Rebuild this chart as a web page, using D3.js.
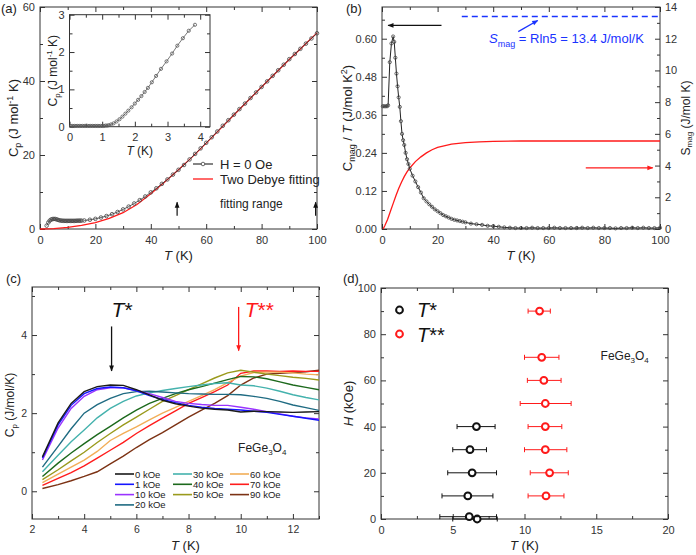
<!DOCTYPE html>
<html>
<head>
<meta charset="utf-8">
<script src="https://cdn.jsdelivr.net/npm/d3@7"></script>
<style>
  body { margin: 0; background: #fff; }
  svg text { font-family: "Liberation Sans", Arial, sans-serif; }
</style>
</head>
<body>
<div id="fig"></div>
<script>
// ---------- panel (a): Cp vs T, zero field ----------
var lowT = [2.4, 3, 3.5, 4, 4.5, 5, 5.5, 6, 6.5, 7, 7.5, 8, 8.5, 9, 9.5, 10, 10.5, 11, 11.5, 12, 12.5, 13, 13.5, 14, 14.5, 15];
var lowCp = [0.9, 1.75, 2.25, 2.55, 2.68, 2.72, 2.71, 2.6, 2.47, 2.35, 2.28, 2.24, 2.22, 2.2, 2.2, 2.2, 2.2, 2.2, 2.2, 2.2, 2.2, 2.22, 2.24, 2.25, 2.25, 2.26];
var highT = [16, 18, 20, 22, 24, 26, 28, 30, 32, 34, 36, 38, 40, 42, 44, 46, 48, 50, 52, 54, 56, 58, 60, 62, 64, 66, 68, 70, 72, 74, 76, 78, 80, 82, 84, 86, 88, 90, 92, 94, 96, 98, 100];
var highCp = [2.3, 2.5, 2.75, 3.1, 3.5, 4.0, 4.6, 5.3, 6.05, 6.9, 7.8, 8.8, 9.9, 11.0, 12.2, 13.4, 14.7, 16.0, 17.3, 18.8, 20.3, 21.8, 23.3, 24.8, 26.35, 27.9, 29.4, 30.9, 32.4, 33.9, 35.4, 36.9, 38.4, 39.9, 41.4, 42.9, 44.4, 45.9, 47.3, 48.7, 50.1, 51.5, 52.9];
var fitT = [0, 5, 10, 15, 20, 25, 30, 35, 40, 45, 50, 55, 60, 65, 70, 75, 80, 85, 90, 95, 100];
var fitCp = [0, 0.1, 0.45, 1.0, 1.75, 2.85, 4.4, 6.6, 9.5, 12.7, 16.0, 19.5, 23.2, 27.0, 30.8, 34.6, 38.4, 42.1, 45.8, 49.4, 53.0];
var fitRange = [49.5, 99.5];

// inset of (a)
var insetT = [0.05, 0.1, 0.15, 0.2, 0.25, 0.3, 0.35, 0.4, 0.45, 0.5, 0.55, 0.6, 0.65, 0.7, 0.75, 0.8, 0.85, 0.9, 0.95, 1.0, 1.05, 1.1, 1.15, 1.2,
    1.27, 1.35, 1.44, 1.53, 1.62, 1.71, 1.8, 1.9, 2.0, 2.1, 2.2, 2.3, 2.4, 2.52, 2.65, 2.8, 2.97, 3.14, 3.3, 3.47, 3.65, 3.84];
var insetCp = [0.02, 0.02, 0.02, 0.02, 0.02, 0.02, 0.02, 0.02, 0.02, 0.02, 0.02, 0.02, 0.02, 0.02, 0.02, 0.02, 0.02, 0.02, 0.02, 0.02, 0.02, 0.03, 0.03, 0.04,
    0.06, 0.09, 0.14, 0.2, 0.27, 0.35, 0.43, 0.52, 0.62, 0.72, 0.82, 0.93, 1.04, 1.19, 1.36, 1.55, 1.75, 1.96, 2.17, 2.37, 2.57, 2.73];

// ---------- panel (b): magnetic part ----------
var magT = [0.3, 0.8, 1.3, 1.8, 2.2, 2.8, 3.4, 4, 4.4, 4.8, 5.2, 5.6, 6, 6.4, 6.8, 7.2, 7.6, 8, 8.5, 9, 9.5, 10, 11, 12, 13, 14, 15, 16, 17, 18, 19, 20,
    21, 22, 23, 24, 25, 26, 27, 28, 29, 30, 32, 34, 36, 38, 40, 42, 44, 46, 48, 50, 52, 54, 56, 58, 60, 62, 64, 66, 68, 70, 72, 74, 76, 78, 80, 82, 84, 86, 88, 90, 92, 94, 96, 98, 100];
var magCT = [0.387, 0.387, 0.387, 0.387, 0.39, 0.526, 0.585, 0.607, 0.59, 0.54, 0.49, 0.45, 0.415, 0.385, 0.34, 0.3, 0.28, 0.265, 0.24, 0.22, 0.205, 0.19, 0.168, 0.15, 0.132, 0.115, 0.097, 0.087, 0.078, 0.07, 0.062, 0.056,
    0.05, 0.044, 0.04, 0.036, 0.032, 0.029, 0.027, 0.025, 0.023, 0.021, 0.017, 0.015, 0.013, 0.01, 0.009, 0.007, 0.005, 0.004, 0.003, 0.003, 0.003, 0.004, 0.003, 0.003, 0.003, 0.004, 0.003, 0.003, 0.003, 0.003, 0.004, 0.003, 0.004, 0.003, 0.003, 0.003, 0.002, 0.003, 0.003, 0.004, 0.003, 0.004, 0.003, 0.003, 0.004];
var entT = [0.4, 1, 2, 3, 4, 5, 6, 7, 8, 9, 10, 12, 14, 16, 18, 20, 25, 30, 35, 40, 50, 60, 80, 100];
var entS = [0, 0.2, 0.6, 1.1, 1.6, 2.1, 2.55, 2.95, 3.3, 3.6, 3.85, 4.25, 4.55, 4.8, 5.0, 5.15, 5.35, 5.45, 5.5, 5.53, 5.55, 5.55, 5.55, 5.55];
var sRln5 = 13.4;

// ---------- panel (c): Cp in field ----------
var fieldT = [2.4, 3, 3.5, 4, 4.5, 5, 5.5, 6, 6.5, 7, 7.5, 8, 8.5, 9, 9.5, 10, 10.5, 11, 11.5, 12, 12.5, 13];
var fieldNames = ["0 kOe", "1 kOe", "10 kOe", "20 kOe", "30 kOe", "40 kOe", "50 kOe", "60 kOe", "70 kOe", "90 kOe"];
var fieldColors = ["#1a1a1a", "#1515ff", "#9a33ff", "#1f6b82", "#44b2ad", "#1c691c", "#9a9a1c", "#f2ae58", "#ff1c1c", "#7c3214"];
var cp0 = [0.88, 1.75, 2.25, 2.55, 2.68, 2.72, 2.71, 2.6, 2.47, 2.33, 2.24, 2.18, 2.13, 2.1, 2.08, 2.03, 2.05, 2.04, 2.03, 2.02, 2.03, 2.04];
var cp1 = [0.85, 1.7, 2.2, 2.5, 2.63, 2.67, 2.65, 2.57, 2.45, 2.35, 2.27, 2.2, 2.15, 2.12, 2.1, 2.08, 2.05, 2.02, 1.97, 1.92, 1.87, 1.82];
var cp10 = [0.8, 1.62, 2.12, 2.43, 2.6, 2.65, 2.65, 2.58, 2.5, 2.4, 2.3, 2.25, 2.22, 2.2, 2.2, 2.15, 2.1, 2.04, 1.98, 1.92, 1.88, 1.85];
var cp20 = [0.62, 1.15, 1.6, 2.0, 2.22, 2.38, 2.5, 2.55, 2.56, 2.54, 2.52, 2.5, 2.49, 2.48, 2.48, 2.47, 2.43, 2.38, 2.3, 2.21, 2.14, 2.07];
var cp30 = [0.5, 0.92, 1.27, 1.57, 1.88, 2.12, 2.3, 2.44, 2.52, 2.58, 2.63, 2.68, 2.72, 2.76, 2.78, 2.72, 2.7, 2.64, 2.56, 2.47, 2.4, 2.34];
var cp40 = [0.38, 0.72, 0.98, 1.22, 1.45, 1.66, 1.88, 2.08, 2.25, 2.38, 2.5, 2.6, 2.68, 2.77, 2.86, 2.94, 2.93, 2.88, 2.8, 2.72, 2.66, 2.6];
var cp50 = [0.3, 0.55, 0.78, 1.0, 1.25, 1.48, 1.7, 1.9, 2.1, 2.3, 2.45, 2.6, 2.75, 2.9, 3.03, 3.1, 3.05, 3.0, 2.96, 2.92, 2.89, 2.85];
var cp60 = [0.22, 0.44, 0.62, 0.8, 1.02, 1.3, 1.48, 1.65, 1.83, 2.0, 2.15, 2.3, 2.45, 2.6, 2.78, 2.95, 3.04, 3.05, 3.05, 3.03, 3.0, 2.98];
var cp70 = [0.15, 0.33, 0.48, 0.65, 0.85, 1.05, 1.25, 1.48, 1.68, 1.87, 2.06, 2.25, 2.4, 2.55, 2.72, 3.02, 3.08, 3.08, 3.07, 3.08, 3.07, 3.07];
var cp90 = [0.07, 0.17, 0.27, 0.38, 0.5, 0.7, 0.9, 1.12, 1.32, 1.5, 1.7, 1.9, 2.08, 2.25, 2.45, 2.72, 2.9, 3.0, 3.02, 3.04, 3.06, 3.1];
var fieldCp = [cp0, cp1, cp10, cp20, cp30, cp40, cp50, cp60, cp70, cp90];
var tStarMark = 5.05, tStar2Mark = 9.92;

// ---------- panel (d): phase diagram ----------
var starH = [0, 1, 10, 20, 30, 40];
var starT = [6.7, 6.15, 6.05, 6.35, 6.2, 6.65];
var starLo = [5.0, 4.1, 4.25, 4.65, 5.0, 5.3];
var starHi = [8.1, 8.05, 7.8, 8.05, 7.35, 7.95];
var star2H = [10, 20, 30, 40, 50, 60, 70, 90];
var star2T = [11.5, 11.75, 11.45, 11.45, 11.45, 11.35, 11.2, 11.05];
var star2Lo = [10.25, 10.4, 10.0, 10.25, 9.7, 10.2, 10.0, 10.25];
var star2Hi = [12.75, 13.05, 12.95, 12.6, 13.25, 12.55, 12.4, 11.8];

var svg = d3.select("#fig").append("svg").attr("width", 696).attr("height", 555);

var defs = svg.append("defs");
[["k", "#111"], ["r", "#ff1a1a"], ["b", "#1a33ff"]].forEach(function (m) {
    defs.append("marker")
        .attr("id", "arr-" + m[0])
        .attr("viewBox", "0 0 10 10")
        .attr("refX", 9).attr("refY", 5)
        .attr("markerWidth", 7).attr("markerHeight", 6)
        .attr("markerUnits", "userSpaceOnUse")
        .attr("orient", "auto")
        .append("path").attr("d", "M0,1 L10,5 L0,9 z").attr("fill", m[1]);
});

// axes with inward ticks on all four sides
function axes(g, x, y, c) {
    var w = x.range()[1], h = y.range()[0];
    var bot = g.append("g").attr("transform", "translate(0," + h + ")");
    bot.call(d3.axisBottom(x).tickValues(c.xt).tickSize(-5).tickSizeOuter(0).tickPadding(7).tickFormat(c.xf || d3.format("d")));
    bot.append("g").call(d3.axisBottom(x).tickValues(c.xm).tickSize(-3).tickSizeOuter(0).tickFormat(""));
    var top = g.append("g");
    top.call(d3.axisTop(x).tickValues(c.xt).tickSize(-5).tickSizeOuter(0).tickFormat(""));
    top.append("g").call(d3.axisTop(x).tickValues(c.xm).tickSize(-3).tickSizeOuter(0).tickFormat(""));
    var left = g.append("g");
    left.call(d3.axisLeft(y).tickValues(c.yt).tickSize(-5).tickSizeOuter(0).tickPadding(5).tickFormat(c.yf || d3.format("d")));
    left.append("g").call(d3.axisLeft(y).tickValues(c.ym).tickSize(-3).tickSizeOuter(0).tickFormat(""));
    if (!c.noRight) {
        var right = g.append("g").attr("transform", "translate(" + w + ",0)");
        right.call(d3.axisRight(y).tickValues(c.yt).tickSize(-5).tickSizeOuter(0).tickFormat(""));
        right.append("g").call(d3.axisRight(y).tickValues(c.ym).tickSize(-3).tickSizeOuter(0).tickFormat(""));
    }
    g.append("rect").attr("width", w).attr("height", h)
        .attr("fill", "none").attr("stroke", "#333").attr("stroke-width", 1);
    g.selectAll(".domain").remove();
    g.selectAll(".tick line").attr("stroke", "#333");
    g.selectAll(".tick text").attr("fill", "#333").style("font-size", (c.fs || 11) + "px");
}

function circles(g, xs, ys, x, y, r, col) {
    g.append("g").selectAll("circle")
        .data(xs)
        .enter()
        .append("circle")
        .attr("cx", (d) => x(d))
        .attr("cy", (d, i) => y(ys[i]))
        .attr("r", r)
        .attr("fill", "none")
        .attr("stroke", col)
        .attr("stroke-width", 0.8);
}

function pathOf(xs, ys, x, y) {
    return d3.line().x((d) => x(d)).y((d, i) => y(ys[i]))(xs);
}

function label(x, y, t) {
    svg.append("text").attr("x", x).attr("y", y).style("font-size", "13px").attr("fill", "#222").text(t);
}

// ================= (a) =================
(function () {
    var W = 277, H = 222;
    var g = svg.append("g").attr("transform", "translate(40,7)");
    var x = d3.scaleLinear().domain([0, 100]).range([0, W]);
    var y = d3.scaleLinear().domain([0, 60]).range([H, 0]);
    axes(g, x, y, { xt: d3.range(0, 101, 20), xm: d3.range(10, 100, 20), yt: [0, 20, 40, 60], ym: [10, 30, 50] });

    g.append("path").attr("d", pathOf(fitT, fitCp, x, y)).attr("fill", "none").attr("stroke", "#ff1a1a").attr("stroke-width", 1.3);
    g.append("path").attr("d", pathOf(highT, highCp, x, y)).attr("fill", "none").attr("stroke", "#333").attr("stroke-width", 0.8);
    circles(g, highT, highCp, x, y, 1.8, "#444");
    g.append("path").attr("d", pathOf(lowT, lowCp, x, y)).attr("fill", "none").attr("stroke", "#333").attr("stroke-width", 0.8);
    circles(g, lowT, lowCp, x, y, 1.8, "#444");

    // fitting range arrows
    fitRange.forEach(function (t) {
        g.append("line").attr("x1", x(t)).attr("x2", x(t)).attr("y1", y(3.6)).attr("y2", y(7.2))
            .attr("stroke", "#111").attr("stroke-width", 1.2).attr("marker-end", "url(#arr-k)");
    });
    g.append("text").attr("x", x(65)).attr("y", y(5.6)).style("font-size", "12px").attr("fill", "#222").text("fitting range");

    // legend
    var lg = g.append("g");
    lg.append("line").attr("x1", 153).attr("x2", 173).attr("y1", 157).attr("y2", 157).attr("stroke", "#333").attr("stroke-width", 1.2);
    lg.append("circle").attr("cx", 163).attr("cy", 157).attr("r", 1.8).attr("fill", "#fff").attr("stroke", "#444").attr("stroke-width", 0.8);
    lg.append("text").attr("x", 180).attr("y", 161.5).style("font-size", "13px").attr("fill", "#222").text("H = 0 Oe");
    lg.append("line").attr("x1", 153).attr("x2", 173).attr("y1", 172).attr("y2", 172).attr("stroke", "#ff1a1a").attr("stroke-width", 1.3);
    lg.append("text").attr("x", 180).attr("y", 176.5).style("font-size", "13px").attr("fill", "#222").text("Two Debye fitting");

    g.append("text").attr("transform", "translate(-22," + H / 2 + ") rotate(-90)").attr("text-anchor", "middle")
        .style("font-size", "13px").attr("fill", "#222")
        .html('C<tspan dy="3" font-size="9">p</tspan><tspan dy="-3"> (J mol</tspan><tspan dy="-5" font-size="9">-1</tspan><tspan dy="5"> K)</tspan>');
    g.append("text").attr("x", W / 2).attr("y", H + 31).attr("text-anchor", "middle").style("font-size", "13px").attr("fill", "#222")
        .html('<tspan font-style="italic">T</tspan> (K)');

    // inset
    var iw = 140.5, ih = 112;
    var ig = svg.append("g").attr("transform", "translate(69.5,14.7)");
    ig.append("rect").attr("width", iw).attr("height", ih).attr("fill", "#fff");
    var ix = d3.scaleLinear().domain([0, 4.3]).range([0, iw]);
    var iy = d3.scaleLinear().domain([0, 3]).range([ih, 0]);
    axes(ig, ix, iy, { xt: [0, 1, 2, 3, 4], xm: [0.5, 1.5, 2.5, 3.5], yt: [0, 1, 2, 3], ym: [0.5, 1.5, 2.5], fs: 11 });
    ig.append("path").attr("d", pathOf(insetT, insetCp, ix, iy)).attr("fill", "none").attr("stroke", "#555").attr("stroke-width", 0.8);
    circles(ig, insetT, insetCp, ix, iy, 1.6, "#555");
    ig.append("text").attr("transform", "translate(-13," + ih / 2 + ") rotate(-90)").attr("text-anchor", "middle")
        .style("font-size", "12px").attr("fill", "#222")
        .html('C<tspan dy="3" font-size="8">p</tspan><tspan dy="-3"> (J mol</tspan><tspan dy="-5" font-size="8">-1</tspan><tspan dy="5"> K)</tspan>');
    ig.append("text").attr("x", iw / 2).attr("y", ih + 28).attr("text-anchor", "middle").style("font-size", "12px").attr("fill", "#222")
        .html('<tspan font-style="italic">T</tspan> (K)');
    label(1, 13, "(a)");
})();

// ================= (b) =================
(function () {
    var W = 278, H = 222;
    var g = svg.append("g").attr("transform", "translate(382,7)");
    var x = d3.scaleLinear().domain([0, 100]).range([0, W]);
    var y = d3.scaleLinear().domain([0, 0.7]).range([H, 0]);
    var yr = d3.scaleLinear().domain([0, 14]).range([H, 0]);
    axes(g, x, y, { xt: d3.range(0, 101, 20), xm: d3.range(10, 100, 20), yt: [0, 0.12, 0.24, 0.36, 0.48, 0.6], ym: [0.06, 0.18, 0.3, 0.42, 0.54, 0.66], yf: d3.format(".2f"), noRight: true });
    var right = g.append("g").attr("transform", "translate(" + W + ",0)");
    right.call(d3.axisRight(yr).tickValues(d3.range(0, 15, 2)).tickSize(-5).tickSizeOuter(0).tickPadding(5));
    right.append("g").call(d3.axisRight(yr).tickValues(d3.range(1, 14, 2)).tickSize(-3).tickSizeOuter(0).tickFormat(""));
    right.selectAll(".domain").remove();
    right.selectAll(".tick line").attr("stroke", "#333");
    right.selectAll(".tick text").attr("fill", "#333").style("font-size", "11px");

    g.append("path").attr("d", pathOf(entT, entS, x, yr)).attr("fill", "none").attr("stroke", "#ff1a1a").attr("stroke-width", 1.3);
    g.append("path").attr("d", pathOf(magT, magCT, x, y)).attr("fill", "none").attr("stroke", "#222").attr("stroke-width", 1);
    circles(g, magT, magCT, x, y, 1.6, "#444");

    // R ln5 line
    g.append("line").attr("x1", x(28.7)).attr("x2", x(100)).attr("y1", yr(sRln5)).attr("y2", yr(sRln5))
        .attr("stroke", "#1a33ff").attr("stroke-width", 1.3).attr("stroke-dasharray", "6,4");
    g.append("line").attr("x1", x(49)).attr("y1", yr(12.45)).attr("x2", x(56)).attr("y2", yr(13.15))
        .attr("stroke", "#1a33ff").attr("stroke-width", 1.3).attr("marker-end", "url(#arr-b)");
    g.append("text").attr("x", x(38.5)).attr("y", yr(11.7)).style("font-size", "13px").attr("fill", "#1a33ff")
        .html('<tspan font-style="italic">S</tspan><tspan dy="4" font-size="9">mag</tspan><tspan dy="-4"> = Rln5 = 13.4 J/mol/K</tspan>');

    // axis arrows
    g.append("line").attr("x1", x(21.4)).attr("x2", x(2.2)).attr("y1", y(0.642)).attr("y2", y(0.642))
        .attr("stroke", "#111").attr("stroke-width", 1.2).attr("marker-end", "url(#arr-k)");
    g.append("line").attr("x1", x(73.3)).attr("x2", x(97.4)).attr("y1", yr(3.86)).attr("y2", yr(3.86))
        .attr("stroke", "#ff1a1a").attr("stroke-width", 1.2).attr("marker-end", "url(#arr-r)");

    g.append("text").attr("transform", "translate(-30," + H / 2 + ") rotate(-90)").attr("text-anchor", "middle")
        .style("font-size", "13px").attr("fill", "#222")
        .html('C<tspan dy="3" font-size="9">mag</tspan><tspan dy="-3"> / </tspan><tspan font-style="italic">T</tspan> (J/mol K<tspan dy="-5" font-size="9">2</tspan><tspan dy="5">)</tspan>');
    g.append("text").attr("transform", "translate(" + (W + 30) + "," + H / 2 + ") rotate(-90)").attr("text-anchor", "middle")
        .style("font-size", "12px").attr("fill", "#222")
        .html('S<tspan dy="2" font-size="8">mag</tspan><tspan dy="-2"> (J/mol K)</tspan>');
    g.append("text").attr("x", W / 2).attr("y", H + 31).attr("text-anchor", "middle").style("font-size", "13px").attr("fill", "#222")
        .html('<tspan font-style="italic">T</tspan> (K)');
    label(346, 13, "(b)");
})();

// ================= (c) =================
(function () {
    var W = 287, H = 232;
    var g = svg.append("g").attr("transform", "translate(32,287)");
    var x = d3.scaleLinear().domain([2, 13]).range([0, W]);
    var y = d3.scaleLinear().domain([-0.71, 5.23]).range([H, 0]);
    axes(g, x, y, { xt: [2, 4, 6, 8, 10, 12], xm: [3, 5, 7, 9, 11, 13], yt: [0, 2, 4], ym: [1, 3, 5], fs: 10.5 });

    g.append("clipPath").attr("id", "clip-c").append("rect").attr("width", W).attr("height", H);
    var lines = g.append("g").attr("clip-path", "url(#clip-c)");
    fieldCp.slice().reverse().forEach(function (vals, k) {
        var i = fieldCp.length - 1 - k;
        lines.append("path").attr("d", pathOf(fieldT, vals, x, y)).attr("fill", "none")
            .attr("stroke", fieldColors[i]).attr("stroke-width", 1.4);
    });

    // T* and T** markers
    g.append("line").attr("x1", x(tStarMark)).attr("x2", x(tStarMark)).attr("y1", y(4.22)).attr("y2", y(3.08))
        .attr("stroke", "#111").attr("stroke-width", 1.3).attr("marker-end", "url(#arr-k)");
    g.append("line").attr("x1", x(tStar2Mark)).attr("x2", x(tStar2Mark)).attr("y1", y(4.72)).attr("y2", y(3.6))
        .attr("stroke", "#ff1a1a").attr("stroke-width", 1.3).attr("marker-end", "url(#arr-r)");
    g.append("text").attr("x", x(5.05)).attr("y", y(4.45)).style("font-size", "21px").attr("fill", "#111")
        .html('<tspan font-style="italic">T</tspan>*');
    g.append("text").attr("x", x(10.15)).attr("y", y(4.45)).style("font-size", "21px").attr("fill", "#ff1a1a")
        .html('<tspan font-style="italic">T</tspan>**');
    g.append("text").attr("x", x(9.9)).attr("y", y(1.0)).style("font-size", "12px").attr("fill", "#222")
        .html('FeGe<tspan dy="3" font-size="8">3</tspan><tspan dy="-3">O</tspan><tspan dy="3" font-size="8">4</tspan>');

    // legend in three columns
    var colX = [83, 141, 198], rowY = [187, 197.3, 207.6, 217.9];
    var slot = [[0, 0], [0, 1], [0, 2], [0, 3], [1, 0], [1, 1], [1, 2], [2, 0], [2, 1], [2, 2]];
    fieldNames.forEach(function (n, i) {
        var cx = colX[slot[i][0]], cy = rowY[slot[i][1]];
        g.append("line").attr("x1", cx).attr("x2", cx + 19).attr("y1", cy).attr("y2", cy)
            .attr("stroke", fieldColors[i]).attr("stroke-width", 1.6);
        g.append("text").attr("x", cx + 20).attr("y", cy + 3.5).style("font-size", "9.5px").attr("fill", "#222").text(n);
    });

    g.append("text").attr("transform", "translate(-18," + (H / 2 + 2) + ") rotate(-90)").attr("text-anchor", "middle")
        .style("font-size", "12px").attr("fill", "#222")
        .html('C<tspan dy="3" font-size="8">p</tspan><tspan dy="-3"> (J/mol/K)</tspan>');
    g.append("text").attr("x", W / 2 + 10).attr("y", H + 31).attr("text-anchor", "middle").style("font-size", "13px").attr("fill", "#222")
        .html('<tspan font-style="italic">T</tspan> (K)');
    label(6, 283, "(c)");
})();

// ================= (d) =================
(function () {
    var W = 287, H = 231;
    var g = svg.append("g").attr("transform", "translate(381,288)");
    var x = d3.scaleLinear().domain([0, 20]).range([0, W]);
    var y = d3.scaleLinear().domain([0, 100]).range([H, 0]);
    axes(g, x, y, { xt: [0, 5, 10, 15, 20], xm: [2.5, 7.5, 12.5, 17.5], yt: d3.range(0, 101, 20), ym: d3.range(10, 100, 20) });

    function errs(hs, ts, lo, hi, col) {
        var eg = g.append("g");
        hs.forEach(function (h, i) {
            eg.append("line").attr("x1", x(lo[i])).attr("x2", x(hi[i])).attr("y1", y(h)).attr("y2", y(h))
                .attr("stroke", col).attr("stroke-width", 1);
            [lo[i], hi[i]].forEach(function (e) {
                eg.append("line").attr("x1", x(e)).attr("x2", x(e)).attr("y1", y(h) - 2.5).attr("y2", y(h) + 2.5)
                    .attr("stroke", col).attr("stroke-width", 1);
            });
            eg.append("circle").attr("cx", x(ts[i])).attr("cy", y(h)).attr("r", 3.4)
                .attr("fill", "#fff").attr("stroke", col).attr("stroke-width", 2);
        });
    }
    errs(starH, starT, starLo, starHi, "#111");
    errs(star2H, star2T, star2Lo, star2Hi, "#ff1a1a");

    // legend
    g.append("circle").attr("cx", 18.5).attr("cy", 22).attr("r", 3.4).attr("fill", "#fff").attr("stroke", "#111").attr("stroke-width", 2);
    g.append("circle").attr("cx", 18.5).attr("cy", 46).attr("r", 3.4).attr("fill", "#fff").attr("stroke", "#ff1a1a").attr("stroke-width", 2);
    g.append("text").attr("x", 36).attr("y", 29).style("font-size", "20px").attr("fill", "#111")
        .html('<tspan font-style="italic">T</tspan>*');
    g.append("text").attr("x", 36).attr("y", 54).style("font-size", "20px").attr("fill", "#111")
        .html('<tspan font-style="italic">T</tspan>**');
    g.append("text").attr("x", x(15.3)).attr("y", y(69)).style("font-size", "12px").attr("fill", "#222")
        .html('FeGe<tspan dy="3" font-size="8">3</tspan><tspan dy="-3">O</tspan><tspan dy="3" font-size="8">4</tspan>');

    g.append("text").attr("transform", "translate(-28," + (H / 2) + ") rotate(-90)").attr("text-anchor", "middle")
        .style("font-size", "13px").attr("fill", "#222")
        .html('<tspan font-style="italic">H</tspan> (kOe)');
    g.append("text").attr("x", W / 2).attr("y", H + 31).attr("text-anchor", "middle").style("font-size", "13px").attr("fill", "#222")
        .html('<tspan font-style="italic">T</tspan> (K)');
    label(343, 283, "(d)");
})();
</script>
</body>
</html>
